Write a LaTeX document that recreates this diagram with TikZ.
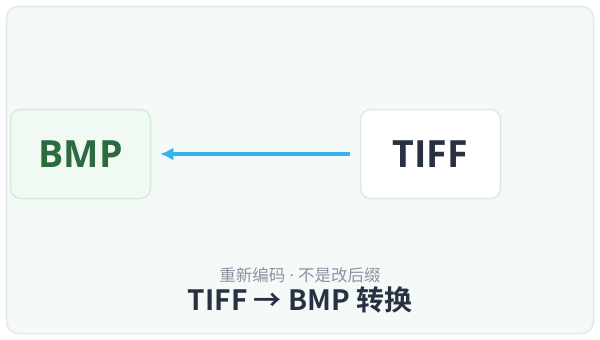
\documentclass[tikz,border=0pt]{standalone}
\usepackage{fontspec}
\usetikzlibrary{arrows.meta}
\setmainfont{Open Sans}
\newfontfamily\cjk{Noto Sans CJK SC}[BoldFont={Noto Sans CJK SC Bold}]
\definecolor{framebd}{HTML}{E3E8EF}
\definecolor{framebg}{HTML}{F5F9F7}
\definecolor{bmpbg}{HTML}{F0FAF2}
\definecolor{bmpbd}{HTML}{D3EDD8}
\definecolor{bmptxt}{HTML}{2D6A3F}
\definecolor{tiffbd}{HTML}{E3E6EE}
\definecolor{darktxt}{HTML}{273142}
\definecolor{arrowc}{HTML}{38B4EC}
\definecolor{subtxt}{HTML}{8A93A3}
\tikzset{
  fmtbox/.style={rounded corners=10pt, line width=1.5pt, minimum width=140pt, minimum height=89pt, inner sep=0pt, font=\bfseries\fontsize{37.5}{40}\selectfont},
}
\begin{document}
\begin{tikzpicture}[x=1pt,y=-1pt]
\useasboundingbox (0,0) rectangle (600,340);
\fill[white] (0,0) rectangle (600,340);
\draw[framebd, fill=framebg, line width=1.5pt, rounded corners=12pt] (6.5,6.5) rectangle (593.5,333.5);
\node[fmtbox, draw=bmpbd, fill=bmpbg, text=bmptxt] (bmp) at (80.5,154) {BMP};
\node[fmtbox, draw=tiffbd, fill=white, text=darktxt] (tiff) at (430.5,154) {TIFF};
\draw[arrowc, line width=3.2pt, -{Latex[length=13pt,width=13pt]}] ([xshift=-10pt]tiff.west) -- ([xshift=9pt]bmp.east);
\node[text=subtxt, font=\cjk\fontsize{16.5}{19}\selectfont, inner sep=0pt] (sub) at (300,275) {重新编码{\rmfamily\ ·\ }不是改后缀};
\node[text=darktxt, font=\cjk\bfseries\fontsize{28}{32}\selectfont, inner sep=0pt] (title) at (300,300) {TIFF → BMP 转换};
\end{tikzpicture}
\end{document}
